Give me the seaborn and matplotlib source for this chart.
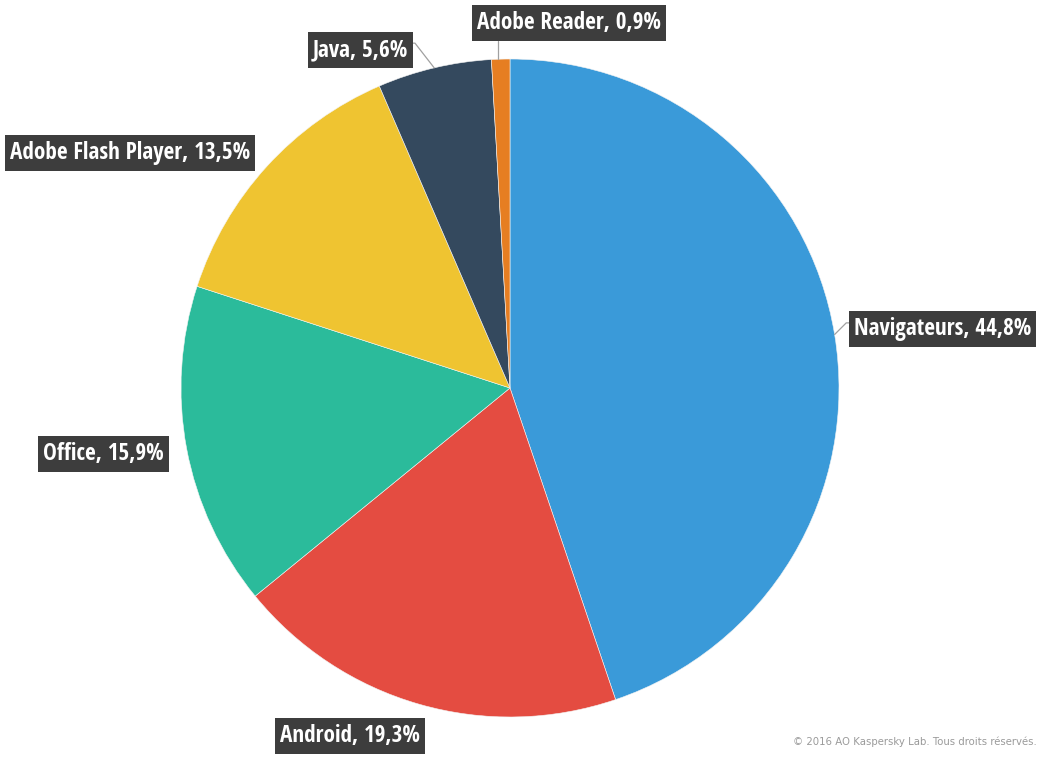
import numpy as np
import matplotlib
matplotlib.use("Agg")
import matplotlib.pyplot as plt
import seaborn as sns
from matplotlib import font_manager
from matplotlib.font_manager import FontProperties
from matplotlib.patches import Rectangle
from matplotlib.lines import Line2D
from matplotlib.transforms import IdentityTransform

categories = ["Navigateurs", "Android", "Office", "Adobe Flash Player", "Java", "Adobe Reader"]
values = [44.8, 19.3, 15.9, 13.5, 5.6, 0.9]
value_labels = ["44,8%", "19,3%", "15,9%", "13,5%", "5,6%", "0,9%"]
colors = ["#3a9ad9", "#e44c41", "#2bbb9b", "#efc431", "#34495e", "#e67e22"]
copyright_text = "© 2016 AO Kaspersky Lab. Tous droits réservés."

sns.set_theme(style="white")
plt.rcParams["font.family"] = ["DejaVu Sans"]

W, H = 1052, 760
fig = plt.figure(figsize=(W / 100, H / 100), dpi=100)
fig.patch.set_facecolor("white")
renderer = fig.canvas.get_renderer()

# pick the narrowest available bold face for the labels
families = ["Liberation Sans Narrow", "Roboto Condensed", "Open Sans Condensed",
            "Roboto", "Liberation Sans", "Lato", "Open Sans", "Inter", "Noto Sans", "DejaVu Sans"]
longest = "Adobe Flash Player, 13,5%"
best = None
for fam in families:
    try:
        fp = FontProperties(family=fam, weight="bold", size=16)
        path = font_manager.findfont(fp, fallback_to_default=False)
    except Exception:
        continue
    fpp = FontProperties(fname=path, size=16)
    t = fig.text(0, 0, longest, fontproperties=fpp)
    wpx = t.get_window_extent(renderer).width
    t.remove()
    if best is None or wpx < best[1]:
        best = (path, wpx)

target_w = 240
fsize = min(18, 16 * target_w / best[1])
lab_fp = FontProperties(fname=best[0], size=fsize)

cx, cy, r = 510, 388, 329
ax = fig.add_axes([(cx - r) / W, (H - cy - r) / H, 2 * r / W, 2 * r / H])
wedges, _ = ax.pie(values, colors=colors, startangle=90, counterclock=False,
                   radius=1, wedgeprops=dict(linewidth=0.4, edgecolor="#f4f4f4"))
ax.set_xlim(-1, 1)
ax.set_ylim(-1, 1)
ax.axis("off")

hpad, box_h = 5, 36
# box anchor (image pixels): x edge/centre, y centre, alignment, leader
label_pos = {
    "Navigateurs": (849, 329, "left", "nav"),
    "Android": (275, 736, "left", None),
    "Office": (38, 454, "left", None),
    "Adobe Flash Player": (5, 153, "left", None),
    "Java": (413, 50, "right", "java"),
    "Adobe Reader": (569, 23, "center", "reader"),
}

lead_kw = dict(color="#a0a0a0", lw=0.9, transform=IdentityTransform(), zorder=3)

for w, cat, vl in zip(wedges, categories, value_labels):
    bx, by, ha, lead = label_pos[cat]
    if ha == "left":
        tx = bx + hpad
    elif ha == "right":
        tx = bx - hpad
    else:
        tx = bx
    txt = fig.text(tx / W, 1 - by / H, f"{cat}, {vl}", ha=ha, va="center",
                   color="white", fontproperties=lab_fp, zorder=6)
    ext = txt.get_window_extent(renderer)
    x0 = ext.x0 - hpad
    x1 = ext.x1 + hpad
    yc = H - by
    y0 = yc - box_h / 2
    y1 = yc + box_h / 2
    fig.add_artist(Rectangle((x0 / W, y0 / H), (x1 - x0) / W, box_h / H,
                             transform=fig.transFigure, facecolor="#3d3d3d",
                             edgecolor="none", zorder=5))
    if lead is None:
        continue
    ang = np.deg2rad((w.theta1 + w.theta2) / 2)
    ex, ey = ax.transData.transform((np.cos(ang), np.sin(ang)))
    if lead == "nav":
        ly = y0 + 0.67 * box_h
        kx = ex + (ly - ey)  # 45 degree elbow
        pts = [(ex, ey), (kx, ly), (x0, ly)]
    elif lead == "java":
        ly = y0 + 0.69 * box_h
        pts = [(x1, ly), (x1 + 2, ly), (ex, ey)]
    else:
        lx = x0 + 0.135 * (x1 - x0)
        pts = [(lx, y0), (lx, ey)]
    xs, ys = zip(*pts)
    fig.add_artist(Line2D(xs, ys, **lead_kw))

fig.text(1037 / W, 1 - 742 / H, copyright_text, ha="right", va="center",
         fontsize=7.3, color="#9a9a9a")

fig.savefig("out.png", dpi=100, facecolor="white")
